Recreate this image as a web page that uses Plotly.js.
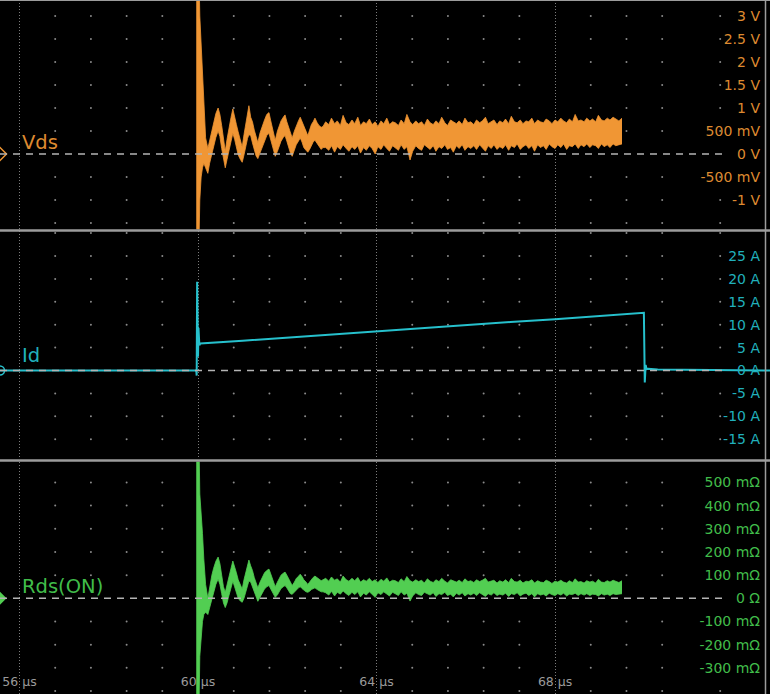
<!DOCTYPE html>
<html>
<head>
<meta charset="utf-8">
<script src="https://cdn.plot.ly/plotly-3.0.1.min.js"></script>
<style>html,body{margin:0;padding:0;background:#000;}#chart{width:770px;height:694px;}</style>
</head>
<body>
<div id="chart"></div>
<script>
// ---- data (time in µs) ----
// turn-on spike and ringing
const RING_TIME_US = [
  59.96, 60.00, 60.02, 60.04, 60.07, 60.10,
  60.13, 60.17, 60.22, 60.26, 60.31, 60.35, 60.40, 60.45, 60.49, 60.53,
  60.57, 60.61, 60.65, 60.69, 60.74, 60.78, 60.82, 60.86, 60.90, 60.95,
  60.99, 61.03, 61.07, 61.11, 61.14, 61.18, 61.22, 61.26, 61.30, 61.34,
  61.39, 61.44, 61.49, 61.54, 61.59, 61.63, 61.68, 61.73, 61.78, 61.82,
  61.86, 61.91, 61.95, 61.99, 62.03, 62.07, 62.11, 62.16, 62.20, 62.25,
  62.29, 62.33, 62.37, 62.42, 62.46, 62.50, 62.54, 62.58, 62.62, 62.67,
  62.71, 62.76, 62.80
];
// settled noisy part
const NOISE_TIME_US = [
  62.86, 62.93, 62.99, 63.06, 63.12, 63.19, 63.25, 63.32, 63.38, 63.45,
  63.51, 63.58, 63.64, 63.71, 63.77, 63.84, 63.90, 63.97, 64.03, 64.10,
  64.16, 64.23, 64.29, 64.36, 64.42, 64.49, 64.55, 64.62, 64.68, 64.75,
  64.81, 64.88, 64.94, 65.01, 65.07, 65.14, 65.20, 65.27, 65.33, 65.40,
  65.46, 65.53, 65.59, 65.66, 65.72, 65.79, 65.85, 65.92, 65.98, 66.05,
  66.11, 66.18, 66.24, 66.31, 66.37, 66.44, 66.50, 66.57, 66.63, 66.70,
  66.76, 66.83, 66.89, 66.96, 67.02, 67.09, 67.15, 67.22, 67.28, 67.35,
  67.41, 67.48, 67.54, 67.61, 67.67, 67.74, 67.80, 67.87, 67.93, 68.00,
  68.06, 68.13, 68.19, 68.26, 68.32, 68.39, 68.45, 68.52, 68.58, 68.65,
  68.71, 68.78, 68.84, 68.91, 68.97, 69.04, 69.10, 69.17, 69.23, 69.30,
  69.36, 69.43, 69.50
];
// Vds band (upper / lower edge of the noisy trace), volts
const VDS_RING_HI = [
  4, 4, 4, 3.0, 2.3, 1.6,
  0.90, 0.35, 0.12, 0.30, 0.55, 0.72, 0.88, 1.00, 0.86, 0.62,
  0.30, 0.06, 0.32, 0.58, 0.80, 0.98, 0.84, 0.64, 0.48, 0.28,
  0.15, 0.42, 0.66, 0.82, 1.05, 0.80, 0.70, 0.52, 0.36, 0.25,
  0.46, 0.62, 0.74, 0.86, 0.90, 0.72, 0.50, 0.30, 0.50, 0.62,
  0.72, 0.80, 0.85, 0.70, 0.58, 0.44, 0.35, 0.50, 0.62, 0.72,
  0.80, 0.70, 0.60, 0.50, 0.40, 0.52, 0.64, 0.70, 0.78, 0.68,
  0.62, 0.58, 0.60
];
const VDS_RING_LO = [
  -2, -2, -2, -1.0, -0.5, -0.3,
  -0.20, -0.30, -0.42, -0.20, 0.02, 0.20, 0.36, 0.50, 0.38, 0.12,
  -0.12, -0.30, -0.12, 0.06, 0.28, 0.45, 0.32, 0.14, -0.02, -0.12,
  -0.18, -0.02, 0.18, 0.34, 0.42, 0.40, 0.24, 0.08, -0.04, -0.10,
  0.02, 0.16, 0.30, 0.40, 0.45, 0.30, 0.10, -0.05, 0.06, 0.18,
  0.28, 0.36, 0.40, 0.28, 0.12, 0.02, -0.05, 0.08, 0.20, 0.28,
  0.35, 0.26, 0.14, 0.08, 0.04, 0.10, 0.20, 0.26, 0.30, 0.22,
  0.16, 0.10, 0.14
];
const VDS_NOISE_HI = [
  0.70, 0.64, 0.78, 0.66, 0.72, 0.62, 0.84, 0.68, 0.64, 0.74,
  0.66, 0.80, 0.62, 0.70, 0.66, 0.76, 0.64, 0.70, 0.60, 0.72,
  0.66, 0.78, 0.64, 0.70, 0.68, 0.62, 0.74, 0.66, 0.86, 0.70,
  0.64, 0.72, 0.66, 0.70, 0.62, 0.76, 0.68, 0.64, 0.72, 0.66,
  0.80, 0.68, 0.62, 0.74, 0.70, 0.66, 0.72, 0.64, 0.78, 0.68,
  0.70, 0.64, 0.74, 0.68, 0.72, 0.80, 0.66, 0.70, 0.74, 0.64,
  0.72, 0.68, 0.76, 0.66, 0.82, 0.70, 0.68, 0.74, 0.66, 0.72,
  0.70, 0.78, 0.66, 0.74, 0.70, 0.68, 0.76, 0.72, 0.66, 0.74,
  0.70, 0.78, 0.72, 0.68, 0.76, 0.70, 0.86, 0.72, 0.74, 0.70,
  0.78, 0.72, 0.76, 0.70, 0.84, 0.74, 0.72, 0.78, 0.74, 0.80,
  0.76, 0.72, 0.78
];
const VDS_NOISE_LO = [
  0.14, 0.08, 0.18, 0.04, 0.16, 0.10, 0.20, 0.12, 0.06, 0.16,
  0.10, 0.18, 0.02, 0.14, 0.08, 0.18, 0.12, 0.00, 0.16, 0.10,
  0.20, 0.12, 0.06, 0.18, 0.14, 0.08, 0.20, 0.10, 0.16, -0.13,
  0.06, 0.18, 0.12, 0.08, 0.20, 0.14, 0.10, 0.18, 0.06, 0.16,
  0.12, 0.20, 0.10, 0.14, 0.04, 0.18, 0.12, 0.20, 0.08, 0.16,
  0.12, 0.18, 0.10, 0.20, 0.14, 0.06, 0.18, 0.12, 0.20, 0.10,
  0.16, 0.12, 0.20, 0.08, 0.18, 0.14, 0.22, 0.10, 0.16, 0.20,
  0.12, 0.18, 0.06, 0.20, 0.14, 0.18, 0.10, 0.22, 0.16, 0.12,
  0.20, 0.14, 0.22, 0.10, 0.18, 0.16, 0.22, 0.12, 0.20, 0.16,
  0.22, 0.14, 0.20, 0.18, 0.12, 0.22, 0.16, 0.20, 0.14, 0.22,
  0.18, 0.20, 0.22
];
// Rds(ON) band, ohms
const RDS_RING_HI = [
  0.7, 0.7, 0.7, 0.45, 0.38, 0.28,
  0.17, 0.06, 0.00, 0.05, 0.10, 0.13, 0.16, 0.178, 0.15, 0.10,
  0.05, 0.026, 0.06, 0.10, 0.13, 0.161, 0.14, 0.11, 0.08, 0.055,
  0.04, 0.08, 0.11, 0.14, 0.165, 0.14, 0.12, 0.09, 0.065, 0.045,
  0.07, 0.09, 0.11, 0.12, 0.126, 0.105, 0.08, 0.05, 0.07, 0.085,
  0.10, 0.108, 0.113, 0.10, 0.085, 0.068, 0.055, 0.07, 0.085, 0.095,
  0.104, 0.094, 0.08, 0.07, 0.06, 0.07, 0.082, 0.09, 0.096, 0.088,
  0.08, 0.076, 0.08
];
const RDS_RING_LO = [
  -0.5, -0.5, -0.5, -0.25, -0.15, -0.1,
  -0.07, -0.06, -0.07, -0.04, 0.00, 0.03, 0.06, 0.083, 0.06, 0.02,
  -0.02, -0.04, -0.02, 0.01, 0.045, 0.074, 0.05, 0.025, 0.00, -0.012,
  -0.017, 0.00, 0.03, 0.055, 0.075, 0.07, 0.05, 0.025, 0.005, -0.013,
  0.005, 0.025, 0.04, 0.05, 0.055, 0.04, 0.02, 0.004, 0.015, 0.03,
  0.042, 0.05, 0.055, 0.045, 0.03, 0.02, 0.017, 0.025, 0.035, 0.045,
  0.05, 0.042, 0.034, 0.028, 0.026, 0.03, 0.038, 0.042, 0.045, 0.038,
  0.032, 0.028, 0.028
];
const RDS_NOISE_HI = [
  0.086, 0.074, 0.092, 0.078, 0.084, 0.070, 0.096, 0.080, 0.074, 0.086,
  0.076, 0.090, 0.070, 0.080, 0.074, 0.086, 0.072, 0.080, 0.068, 0.082,
  0.074, 0.088, 0.070, 0.078, 0.076, 0.068, 0.084, 0.072, 0.094, 0.076,
  0.070, 0.080, 0.072, 0.078, 0.066, 0.084, 0.074, 0.068, 0.080, 0.072,
  0.086, 0.074, 0.066, 0.080, 0.076, 0.070, 0.078, 0.068, 0.084, 0.072,
  0.076, 0.068, 0.080, 0.072, 0.078, 0.086, 0.070, 0.074, 0.078, 0.066,
  0.076, 0.070, 0.080, 0.068, 0.086, 0.072, 0.070, 0.078, 0.066, 0.074,
  0.072, 0.080, 0.066, 0.076, 0.070, 0.068, 0.078, 0.072, 0.064, 0.074,
  0.070, 0.078, 0.070, 0.066, 0.076, 0.068, 0.084, 0.070, 0.072, 0.066,
  0.076, 0.070, 0.074, 0.066, 0.082, 0.070, 0.068, 0.076, 0.070, 0.078,
  0.072, 0.068, 0.076
];
const RDS_NOISE_LO = [
  0.024, 0.014, 0.030, 0.010, 0.026, 0.018, 0.032, 0.020, 0.012, 0.026,
  0.016, 0.028, 0.006, 0.022, 0.014, 0.028, 0.018, 0.004, 0.024, 0.016,
  0.028, 0.018, 0.010, 0.026, 0.020, 0.012, 0.028, 0.014, 0.022, -0.012,
  0.010, 0.024, 0.016, 0.012, 0.026, 0.018, 0.014, 0.024, 0.008, 0.020,
  0.016, 0.026, 0.012, 0.018, 0.006, 0.022, 0.014, 0.024, 0.010, 0.020,
  0.014, 0.022, 0.012, 0.024, 0.016, 0.008, 0.020, 0.014, 0.024, 0.012,
  0.018, 0.014, 0.022, 0.008, 0.020, 0.016, 0.024, 0.010, 0.018, 0.022,
  0.012, 0.020, 0.006, 0.020, 0.014, 0.018, 0.010, 0.022, 0.016, 0.012,
  0.020, 0.014, 0.022, 0.010, 0.018, 0.016, 0.022, 0.012, 0.020, 0.014,
  0.020, 0.012, 0.018, 0.016, 0.010, 0.020, 0.014, 0.018, 0.012, 0.020,
  0.016, 0.018, 0.020
];
// Id trace, amps
const ID_TIME_US = [55.56, 59.96, 59.97, 59.98, 60.00, 60.01, 60.03, 60.05, 61.0, 62.0,
  63.0, 64.0, 65.0, 66.0, 67.0, 68.0, 69.0, 69.99, 70.01, 70.03,
  70.05, 70.08, 70.3, 70.8, 71.5, 72.82];
const ID_AMPS = [0, 0, -1.1, 19.4, 3.0, 9.3, 5.5, 5.9, 6.5, 7.2,
  7.8, 8.5, 9.2, 9.9, 10.6, 11.2, 11.9, 12.6, -2.6, 1.2,
  0.3, 0.4, 0.2, 0.15, 0.05, 0];

// ---- axis ticks ----
const X_TICKS = [56, 60, 64, 68];
const X_TICK_TEXT = ['56 µs', '60 µs', '64 µs', '68 µs'];
const VDS_TICKS = [3, 2.5, 2, 1.5, 1, 0.5, 0, -0.5, -1];
const VDS_TICK_TEXT = ['3 V', '2.5 V', '2 V', '1.5 V', '1 V', '500 mV', '0 V', '-500 mV', '-1 V'];
const ID_TICKS = [25, 20, 15, 10, 5, 0, -5, -10, -15];
const ID_TICK_TEXT = ['25 A', '20 A', '15 A', '10 A', '5 A', '0 A', '-5 A', '-10 A', '-15 A'];
const RDS_TICKS = [0.5, 0.4, 0.3, 0.2, 0.1, 0, -0.1, -0.2, -0.3];
const RDS_TICK_TEXT = ['500 mΩ', '400 mΩ', '300 mΩ', '200 mΩ', '100 mΩ', '0 Ω', '-100 mΩ', '-200 mΩ', '-300 mΩ'];

// ---- graticule ----
const GRID_COLUMNS_US = [56.8, 57.6, 58.4, 59.2, 60.8, 61.6, 62.4, 63.2, 64.8, 65.6, 66.4, 67.2, 68.8, 69.6, 70.4, 71.7];
const VDS_GRID_ROWS = [-1.5, -1, -0.5, 0.5, 1, 1.5, 2, 2.5, 3];
const ID_GRID_ROWS = [-15, -10, -5, 5, 10, 15, 20, 25, 30];
const RDS_GRID_ROWS = [-0.4, -0.3, -0.2, -0.1, 0.1, 0.2, 0.3, 0.4, 0.5];

const X_MIN = 55.563, X_MAX = 72.816;
const ZERO_LINE_END = 71.875;

const ORANGE = 'rgb(240,150,52)', ORANGE_TXT = 'rgb(222,138,48)';
const CYAN = 'rgb(38,192,204)', CYAN_TXT = 'rgb(32,176,188)';
const GREEN = 'rgb(82,206,82)', GREEN_TXT = 'rgb(64,188,74)';
const FONT = 'DejaVu Sans, Verdana, sans-serif';

const TIME_US = RING_TIME_US.concat(NOISE_TIME_US);

function gridTrace(rows, yaxis) {
  const xs = [], ys = [];
  GRID_COLUMNS_US.forEach(c => rows.forEach(r => { xs.push(c); ys.push(r); }));
  return {x: xs, y: ys, yaxis: yaxis, type: 'scatter', mode: 'markers',
    marker: {size: 2, color: '#8a8a8a'}, hoverinfo: 'skip'};
}
function band(lo, hi, yaxis, color) {
  return [
    {x: TIME_US, y: lo, yaxis: yaxis, type: 'scatter', mode: 'lines',
      line: {color: color, width: 0.8}, hoverinfo: 'skip'},
    {x: TIME_US, y: hi, yaxis: yaxis, type: 'scatter', mode: 'lines', fill: 'tonexty',
      fillcolor: color, line: {color: color, width: 0.8}, hoverinfo: 'skip'}
  ];
}

const traces = [
  gridTrace(VDS_GRID_ROWS, 'y'),
  gridTrace(ID_GRID_ROWS, 'y2'),
  gridTrace(RDS_GRID_ROWS, 'y3'),
  ...band(VDS_RING_LO.concat(VDS_NOISE_LO), VDS_RING_HI.concat(VDS_NOISE_HI), 'y', ORANGE),
  {x: ID_TIME_US, y: ID_AMPS, yaxis: 'y2', type: 'scatter', mode: 'lines',
    line: {color: CYAN, width: 2}, hoverinfo: 'skip'},
  ...band(RDS_RING_LO.concat(RDS_NOISE_LO), RDS_RING_HI.concat(RDS_NOISE_HI), 'y3', GREEN),
  {x: [X_MIN], y: [0], yaxis: 'y', type: 'scatter', mode: 'markers',
    marker: {symbol: 'diamond-open', size: 10, color: ORANGE, line: {width: 1.5, color: ORANGE}}},
  {x: [X_MIN], y: [0], yaxis: 'y2', type: 'scatter', mode: 'markers',
    marker: {symbol: 'circle-open', size: 9, color: CYAN, line: {width: 1.5, color: CYAN}}},
  {x: [X_MIN], y: [0], yaxis: 'y3', type: 'scatter', mode: 'markers',
    marker: {symbol: 'diamond', size: 10, color: GREEN}}
];

function yAxis(domain, range, ticks, text, color) {
  return {domain: domain, range: range, anchor: 'x', side: 'right',
    tickvals: ticks, ticktext: text, ticklabelposition: 'inside', ticklabeloverflow: 'allow',
    ticklabelstandoff: 7,
    ticks: '', showgrid: false, zeroline: false, showline: false, fixedrange: true,
    tickfont: {family: FONT, size: 14, color: color}};
}
function zeroLine(yref) {
  return {type: 'line', xref: 'x', yref: yref, x0: X_MIN, x1: ZERO_LINE_END, y0: 0, y1: 0,
    layer: 'above', line: {color: '#b4b4b4', width: 1.5, dash: '7px,6px'}};
}
function hLine(yPaper, w) {
  return {type: 'line', xref: 'paper', yref: 'paper', x0: 0, x1: 1, y0: yPaper, y1: yPaper,
    layer: 'above', line: {color: '#9c9c9c', width: w}};
}

const layout = {
  width: 770, height: 694,
  margin: {l: 0, r: 0, t: 0, b: 0, pad: 0},
  paper_bgcolor: '#000', plot_bgcolor: '#000',
  showlegend: false, hovermode: false,
  xaxis: {range: [X_MIN, X_MAX], domain: [0, 1], anchor: 'y3',
    tickvals: X_TICKS, ticktext: X_TICK_TEXT, ticklabelposition: 'inside', ticklabeloverflow: 'allow',
    ticklabelstandoff: 3,
    ticks: '', tickfont: {family: FONT, size: 12.5, color: '#9a9a9a'},
    showgrid: true, gridcolor: '#7c7c7c', gridwidth: 1, griddash: '1px,2px',
    zeroline: false, showline: false, fixedrange: true},
  yaxis: yAxis([0.66931, 1], [-1.641, 3.348], VDS_TICKS, VDS_TICK_TEXT, ORANGE_TXT),
  yaxis2: yAxis([0.33790, 0.66643], [-19.43, 30.35], ID_TICKS, ID_TICK_TEXT, CYAN_TXT),
  yaxis3: yAxis([0, 0.33501], [-0.4130, 0.5904], RDS_TICKS, RDS_TICK_TEXT, GREEN_TXT),
  shapes: [
    zeroLine('y'), zeroLine('y2'), zeroLine('y3'),
    hLine(1 - 0.5 / 694, 1),
    hLine(1 - 230.5 / 694, 2.3),
    hLine(1 - 460.5 / 694, 2.3),
    {type: 'line', xref: 'paper', yref: 'paper', x0: 765.5 / 770, x1: 765.5 / 770, y0: 0, y1: 1,
      layer: 'above', line: {color: '#9c9c9c', width: 1.5}}
  ],
  annotations: [
    {text: 'Vds', xref: 'x', yref: 'y', x: 56.01, y: 0.24, xanchor: 'left', yanchor: 'middle',
      showarrow: false, font: {family: FONT, size: 19.5, color: ORANGE_TXT}},
    {text: 'Id', xref: 'x', yref: 'y2', x: 56.01, y: 3.28, xanchor: 'left', yanchor: 'middle',
      showarrow: false, font: {family: FONT, size: 19.5, color: CYAN_TXT}},
    {text: 'Rds(ON)', xref: 'x', yref: 'y3', x: 56.01, y: 0.053, xanchor: 'left', yanchor: 'middle',
      showarrow: false, font: {family: FONT, size: 19.5, color: GREEN_TXT}}
  ]
};

Plotly.newPlot('chart', traces, layout, {staticPlot: true, displayModeBar: false});
</script>
</body>
</html>
